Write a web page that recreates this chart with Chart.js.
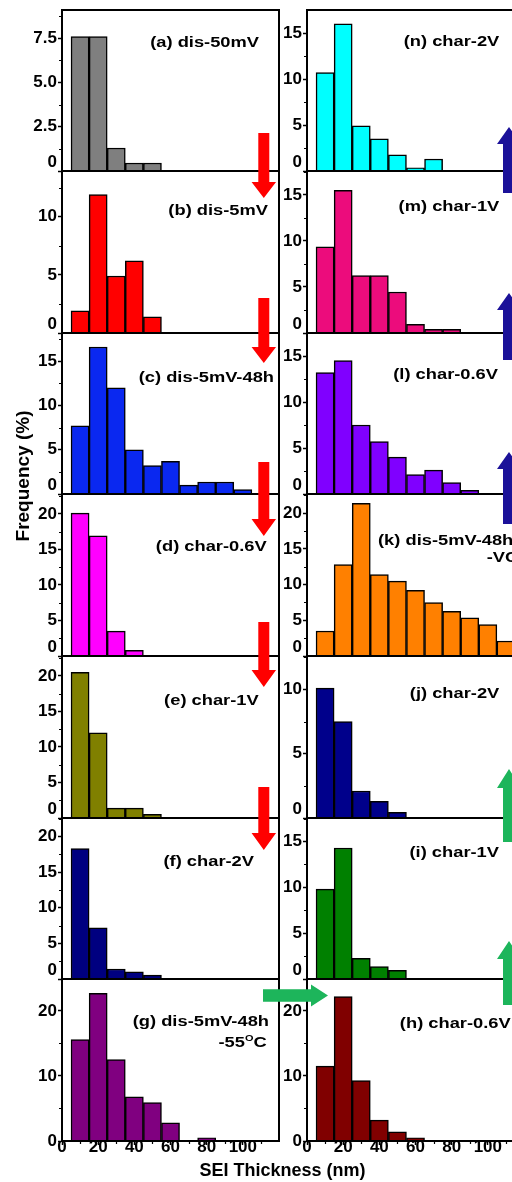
<!DOCTYPE html>
<html>
<head>
<meta charset="utf-8">
<script src="https://cdn.jsdelivr.net/npm/chart.js@4/dist/chart.umd.min.js"></script>
<style>
  html, body { margin: 0; padding: 0; background: #fff; }
  #fig { position: relative; width: 512px; height: 1182px; overflow: hidden; background: #fff; }
  #fig canvas { position: absolute; }
</style>
</head>
<body>
<div id="fig"></div>
<script>
// ---- data -----------------------------------------------------------------
// bin centres (nm); every histogram uses 10 nm wide bins
const binCenters = [10, 20, 30, 40, 50, 60, 70, 80, 90, 100, 110];

// SEI thickness frequency (%) per bin
const freqA = [7.6, 7.6, 1.3, 0.45, 0.45];
const freqB = [1.9, 11.9, 4.9, 6.2, 1.4];
const freqC = [7.7, 16.6, 12.0, 5.0, 3.2, 3.7, 1.0, 1.35, 1.35, 0.5];
const freqD = [20.1, 16.9, 3.5, 0.8];
const freqE = [20.5, 12.0, 1.4, 1.4, 0.5];
const freqF = [18.3, 7.2, 1.4, 1.0, 0.55];
const freqG = [15.6, 22.7, 12.5, 6.8, 5.9, 2.8, 0, 0.5];
const freqH = [11.5, 22.2, 9.3, 3.2, 1.4, 0.5];
const freqI = [9.8, 14.3, 2.25, 1.35, 0.95];
const freqJ = [10.1, 7.5, 2.1, 1.3, 0.45];
const freqK = [3.5, 12.8, 21.4, 11.4, 10.5, 9.2, 7.5, 6.25, 5.35, 4.4, 2.1];
const freqL = [13.2, 14.5, 7.5, 5.7, 4.0, 2.1, 2.6, 1.25, 0.4];
const freqM = [9.35, 15.5, 6.25, 6.25, 4.45, 0.95, 0.4, 0.4];
const freqN = [10.7, 16.0, 4.9, 3.5, 1.75, 0.35, 1.3];

// tick values and labels
const yTicksA = [0, 2.5, 5, 7.5];
const yTickLabelsA = ['0', '2.5', '5.0', '7.5'];
const yTicks0to10 = [0, 5, 10];
const yTicks0to15 = [0, 5, 10, 15];
const yTicks0to20 = [0, 5, 10, 15, 20];
const yTicksBy10 = [0, 10, 20];
const xTicks = [0, 20, 40, 60, 80, 100];
const xMinorTicks = [10, 30, 50, 70, 90, 110];

// panel captions
const panelTitles = {
  a: '(a) dis-50mV', b: '(b) dis-5mV', c: '(c) dis-5mV-48h', d: '(d) char-0.6V',
  e: '(e) char-1V', f: '(f) char-2V', g: '(g) dis-5mV-48h',
  h: '(h) char-0.6V', i: '(i) char-1V', j: '(j) char-2V', k: '(k) dis-5mV-48h',
  l: '(l) char-0.6V', m: '(m) char-1V', n: '(n) char-2V'
};
const yTitle = 'Frequency (%)';
const xTitle = 'SEI Thickness (nm)';

// ---- layout ---------------------------------------------------------------
const rowTops = [10, 171, 333, 494, 656, 818, 979, 1141];
const colAxisX = [62, 307];
const PLOT_W = 217, AXIS_W = 62, PAD_T = 24, PAD_B = 24, PAD_R = 14, XAXIS_H = 30;
const FONT = '"Liberation Sans", Arial, sans-serif';
const TITLE_STRETCH = 1.22;

const panels = [
  { col: 0, row: 0, values: freqA, yMax: 9.1,  ticks: yTicksA, tickLabels: yTickLabelsA, color: '#7f7f7f',
    text: [{ s: panelTitles.a, x: 197, y: 32.5, align: 'right' }] },
  { col: 0, row: 1, values: freqB, yMax: 13.93, ticks: yTicks0to10, color: '#ff0000',
    text: [{ s: panelTitles.b, x: 206, y: 40, align: 'right' }] },
  { col: 0, row: 2, values: freqC, yMax: 18.18, ticks: yTicks0to15, color: '#0a28f0',
    text: [{ s: panelTitles.c, x: 212, y: 44.5, align: 'right' }] },
  { col: 0, row: 3, values: freqD, yMax: 22.8, ticks: yTicks0to20, color: '#ff00ff',
    text: [{ s: panelTitles.d, x: 204.7, y: 52.7, align: 'right' }] },
  { col: 0, row: 4, values: freqE, yMax: 22.8, ticks: yTicks0to20, color: '#808000',
    text: [{ s: panelTitles.e, x: 196.7, y: 45, align: 'right' }] },
  { col: 0, row: 5, values: freqF, yMax: 22.6, ticks: yTicks0to20, color: '#000080',
    text: [{ s: panelTitles.f, x: 192, y: 44, align: 'right' }] },
  { col: 0, row: 6, values: freqG, yMax: 24.9, ticks: yTicksBy10, color: '#800080',
    text: [{ s: panelTitles.g, x: 207, y: 42.7, align: 'right' },
           { parts: ['-55', 'O', 'C'], x: 204.7, y: 64.3 }] },
  { col: 1, row: 0, values: freqN, yMax: 17.5, ticks: yTicks0to15, color: '#00ffff',
    text: [{ s: panelTitles.n, x: 192.3, y: 32, align: 'right' }] },
  { col: 1, row: 1, values: freqM, yMax: 17.6, ticks: yTicks0to15, color: '#ec0c7c',
    text: [{ s: panelTitles.m, x: 192.3, y: 35.7, align: 'right' }] },
  { col: 1, row: 2, values: freqL, yMax: 17.5, ticks: yTicks0to15, color: '#8000ff',
    text: [{ s: panelTitles.l, x: 191, y: 42, align: 'right' }] },
  { col: 1, row: 3, values: freqK, yMax: 22.7, ticks: yTicks0to20, color: '#ff8000',
    text: [{ s: panelTitles.k, x: 71, y: 46.8, align: 'left' },
           { s: '-VC', x: 179.7, y: 64.3, align: 'left' }] },
  { col: 1, row: 4, values: freqJ, yMax: 12.6, ticks: yTicks0to10, color: '#00008b',
    text: [{ s: panelTitles.j, x: 192.3, y: 37.7, align: 'right' }] },
  { col: 1, row: 5, values: freqI, yMax: 17.57, ticks: yTicks0to15, color: '#008000',
    text: [{ s: panelTitles.i, x: 192, y: 35.3, align: 'right' }] },
  { col: 1, row: 6, values: freqH, yMax: 24.9, ticks: yTicksBy10, color: '#800000',
    text: [{ s: panelTitles.h, x: 203.7, y: 45.2, align: 'right' }] }
];

const fig = document.getElementById('fig');

function makeCanvas(left, top, w, h) {
  const c = document.createElement('canvas');
  c.width = w; c.height = h;
  c.style.left = left + 'px'; c.style.top = top + 'px';
  c.style.width = w + 'px'; c.style.height = h + 'px';
  fig.appendChild(c);
  return c;
}

// caption text, slightly widened like the original bold labels
function drawCaption(ctx, area, t) {
  ctx.save();
  ctx.fillStyle = '#000';
  ctx.textBaseline = 'middle';
  const x = area.left + t.x, y = area.top + t.y;
  if (t.parts) {
    // "-55" + superscript "O" + "C"
    const big = 'bold 15px ' + FONT, small = 'bold 9px ' + FONT;
    ctx.font = big; const w0 = ctx.measureText(t.parts[0]).width;
    ctx.font = small; const w1 = ctx.measureText(t.parts[1]).width;
    ctx.font = big; const w2 = ctx.measureText(t.parts[2]).width;
    ctx.translate(x - (w0 + w1 + w2) * TITLE_STRETCH, y);
    ctx.scale(TITLE_STRETCH, 1);
    ctx.textAlign = 'left';
    ctx.font = big; ctx.fillText(t.parts[0], 0, 0);
    ctx.font = small; ctx.fillText(t.parts[1], w0, -5);
    ctx.font = big; ctx.fillText(t.parts[2], w0 + w1, 0);
  } else {
    ctx.translate(x, y);
    ctx.scale(TITLE_STRETCH, 1);
    ctx.font = 'bold 15px ' + FONT;
    ctx.textAlign = t.align;
    ctx.fillText(t.s, 0, 0);
  }
  ctx.restore();
}

panels.forEach(p => {
  const bottom = p.row === 6;
  const panelH = rowTops[p.row + 1] - rowTops[p.row];
  const canvasH = panelH + PAD_T + PAD_B + (bottom ? XAXIS_H : 0);
  const canvasW = AXIS_W + PLOT_W + PAD_R;
  const canvas = makeCanvas(colAxisX[p.col] - AXIS_W, rowTops[p.row] - PAD_T, canvasW, canvasH);

  const step = p.ticks[1] - p.ticks[0];
  const yMinor = p.ticks.map(v => v + step / 2).filter(v => v < p.yMax);

  const panelDecor = {
    id: 'panelDecor',
    afterDraw(chart) {
      const { ctx, chartArea: a, scales } = chart;
      ctx.save();
      ctx.strokeStyle = '#000';
      // box: top and right edges
      ctx.lineWidth = 2;
      ctx.beginPath();
      ctx.moveTo(a.left - 1, a.top); ctx.lineTo(a.right, a.top); ctx.lineTo(a.right, a.bottom + 1);
      ctx.stroke();
      // minor y ticks
      ctx.lineWidth = 1.2;
      ctx.beginPath();
      yMinor.forEach(v => {
        const y = Math.round(scales.y.getPixelForValue(v)) + 0.5;
        ctx.moveTo(a.left - 3, y); ctx.lineTo(a.left, y);
      });
      if (bottom) {
        xMinorTicks.forEach(v => {
          const x = Math.round(scales.x.getPixelForValue(v)) + 0.5;
          ctx.moveTo(x, a.bottom); ctx.lineTo(x, a.bottom + 3);
        });
      }
      ctx.stroke();
      ctx.restore();
      p.text.forEach(t => drawCaption(ctx, a, t));
    }
  };

  new Chart(canvas, {
    type: 'bar',
    data: {
      datasets: [{
        data: p.values.map((v, i) => ({ x: binCenters[i], y: v })),
        backgroundColor: p.color,
        borderColor: '#000',
        borderWidth: 1.5,
        barPercentage: 1,
        categoryPercentage: 1
      }]
    },
    options: {
      responsive: false,
      animation: false,
      devicePixelRatio: 1,
      events: [],
      layout: { padding: { left: 0, right: PAD_R, top: PAD_T, bottom: PAD_B } },
      plugins: { legend: { display: false }, tooltip: { enabled: false } },
      scales: {
        x: {
          type: 'linear', min: 0, max: 120, offset: false,
          grid: { display: bottom, drawOnChartArea: false, drawTicks: true, tickLength: 4,
                  tickWidth: 1.5, tickColor: '#000', offset: false },
          border: { display: true, color: '#000', width: 2, z: 1 },
          ticks: { display: bottom, color: '#000', padding: -6, maxRotation: 0,
                   font: { family: FONT, size: 17, weight: 'bold', lineHeight: 1 } },
          afterBuildTicks: s => { s.ticks = xTicks.map(v => ({ value: v })); },
          afterFit: s => { s.height = bottom ? XAXIS_H : 0; }
        },
        y: {
          min: 0, max: p.yMax,
          grid: { drawOnChartArea: false, drawTicks: true, tickLength: 4, tickWidth: 1.5, tickColor: '#000' },
          border: { display: true, color: '#000', width: 2, z: 1 },
          ticks: {
            color: '#000', padding: 1,
            font: { family: FONT, size: 17, weight: 'bold', lineHeight: 1 },
            callback: value => {
              const i = p.ticks.indexOf(value);
              const lab = p.tickLabels ? p.tickLabels[i] : String(value);
              // the zero label sits just above the shared panel edge
              return (value === 0 && !bottom) ? [lab, ''] : lab;
            }
          },
          afterBuildTicks: s => { s.ticks = p.ticks.map(v => ({ value: v })); },
          afterFit: s => { s.width = AXIS_W; }
        }
      }
    },
    plugins: [panelDecor]
  });
});

// ---- arrows and shared axis titles ------------------------------------------
const overlay = makeCanvas(0, 0, 512, 1182);
const octx = overlay.getContext('2d');

function arrowV(ctx, cx, yTail, yHead, yTip, shaftW, headW) {
  ctx.beginPath();
  ctx.moveTo(cx - shaftW / 2, yTail);
  ctx.lineTo(cx + shaftW / 2, yTail);
  ctx.lineTo(cx + shaftW / 2, yHead);
  ctx.lineTo(cx + headW / 2, yHead);
  ctx.lineTo(cx, yTip);
  ctx.lineTo(cx - headW / 2, yHead);
  ctx.lineTo(cx - shaftW / 2, yHead);
  ctx.closePath();
  ctx.fill();
}
function arrowH(ctx, cy, xTail, xHead, xTip, shaftH, headH) {
  ctx.beginPath();
  ctx.moveTo(xTail, cy - shaftH / 2);
  ctx.lineTo(xHead, cy - shaftH / 2);
  ctx.lineTo(xHead, cy - headH / 2);
  ctx.lineTo(xTip, cy);
  ctx.lineTo(xHead, cy + headH / 2);
  ctx.lineTo(xHead, cy + shaftH / 2);
  ctx.lineTo(xTail, cy + shaftH / 2);
  ctx.closePath();
  ctx.fill();
}

// discharge direction (left column, downward)
octx.fillStyle = '#ff0000';
[[133, 182, 198], [298, 347, 363], [462, 519, 536], [622, 670, 687], [787, 833, 850]]
  .forEach(a => arrowV(octx, 263.8, a[0], a[1], a[2], 11, 24.5));
// charge direction (right column, upward)
octx.fillStyle = '#1b1199';
[[193, 144, 127], [360, 310, 293], [524, 469, 452]]
  .forEach(a => arrowV(octx, 509, a[0], a[1], a[2], 12, 24));
octx.fillStyle = '#1db55b';
[[842, 788, 769], [1005, 959, 941]]
  .forEach(a => arrowV(octx, 509, a[0], a[1], a[2], 12, 24));
arrowH(octx, 995.5, 263, 311, 328, 12.4, 22);

octx.fillStyle = '#000';
octx.textAlign = 'center';
octx.textBaseline = 'middle';
octx.save();
octx.translate(24, 476);
octx.rotate(-Math.PI / 2);
octx.font = 'bold 19px ' + FONT;
octx.fillText(yTitle, 0, 0);
octx.restore();
octx.font = 'bold 18px ' + FONT;
octx.fillText(xTitle, 282.5, 1171);
</script>
</body>
</html>
